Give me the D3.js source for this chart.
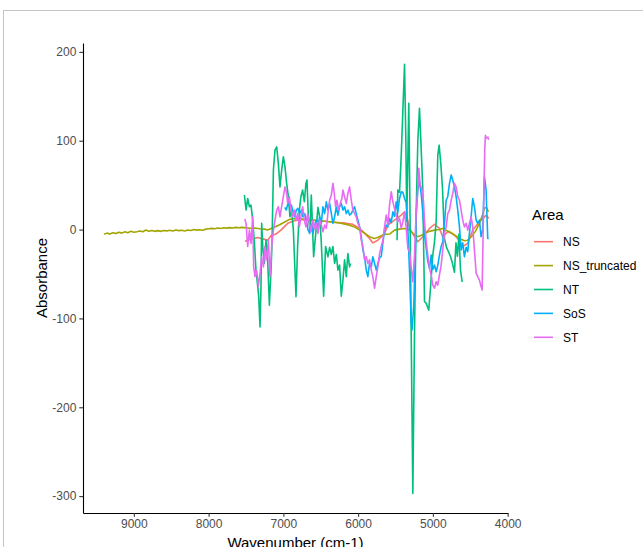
<!DOCTYPE html>
<html>
<head>
<meta charset="utf-8">
<script src="https://cdn.jsdelivr.net/npm/d3@7"></script>
<style>
  body { margin: 0; background: #fff; }
  svg { display: block; font-family: "Liberation Sans", Arial, sans-serif; }
</style>
</head>
<body>
<svg id="chart"></svg>
<script>
// series names (legend order) and ggplot hue colours
const areas = ['NS', 'NS_truncated', 'NT', 'SoS', 'ST'];
const areaColors = ['#F8766D', '#A3A500', '#00BF7D', '#00B0F6', '#E76BF3'];

const xTicks = [9000, 8000, 7000, 6000, 5000, 4000];
const yTicks = [200, 100, 0, -100, -200, -300];

// [wavenumber, absorbance]
const nsTruncated = [
  [9401, -5.4], [9361, -4], [9321, -5], [9281, -3.5], [9240, -4.5], [9200, -3], [9160, -4],
  [9120, -2.5], [9080, -3.5], [9040, -2], [9000, -3], [8960, -2.5], [8920, -1.5], [8880, -2.5],
  [8840, -0.5], [8800, -1.8], [8760, -1], [8719, -2], [8679, -1.2], [8639, -2], [8599, -1],
  [8559, -1.5], [8519, -0.8], [8479, -1.6], [8439, -0.5], [8399, -1.2], [8359, -0.8], [8319, -1.5],
  [8279, -0.5], [8238, -1], [8198, 0], [8158, -0.6], [8118, -0.2], [8078, -0.8], [8038, 0.5],
  [7998, 1], [7958, 1.4], [7918, 1], [7878, 1.8], [7838, 1.2], [7798, 2], [7758, 1.6],
  [7717, 2.2], [7677, 1.8], [7637, 2.5], [7597, 2], [7557, 2.5], [7517, 2.2], [7450, 1.5],
  [7383, 1.8], [7317, 1], [7250, 0.5], [7210, -0.5], [7170, 1], [7116, 3], [7049, 5.5],
  [6983, 8.5], [6916, 11.5], [6849, 12.5], [6782, 12], [6716, 11.5], [6649, 10.7], [6515, 10],
  [6381, 8.8], [6248, 7.5], [6114, 5], [6047, 3], [5981, -0.6], [5914, -4], [5847, -8],
  [5780, -10], [5740, -9], [5687, -7], [5647, -5.4], [5580, -5], [5513, -0.6], [5446, 0.5],
  [5379, 1.3], [5312, -0.5], [5245, -6], [5205, -8], [5152, -6.5], [5112, -4.3], [5045, -2],
  [4978, -0.6], [4912, 0], [4872, 1.3], [4818, -1], [4778, -2.4], [4711, -6], [4644, -10],
  [4578, -12.5], [4538, -12], [4484, -8], [4431, -2], [4377, 7], [4337, 16], [4311, 24],
  [4284, 25], [4257, 20]
];

const ns = [
  [7513, -13], [7450, -11], [7387, -10], [7343, -9], [7299, -10], [7250, -11], [7210, -12],
  [7165, -7], [7099, -5], [7032, -0.6], [6942, 7], [6849, 10], [6782, 11], [6648, 11],
  [6515, 10], [6381, 8.8], [6288, 8], [6181, 7.5], [6074, 6], [5980, 1.3], [5914, -4],
  [5847, -10], [5803, -15], [5736, -12], [5646, -4.3], [5602, 5], [5513, 10.7], [5423, 16.3],
  [5379, 20], [5346, 14], [5312, 1.3], [5246, -8], [5201, -13.7], [5135, -8], [5045, 1.3],
  [4978, 6], [4912, 1.3], [4868, -8], [4801, -2.4], [4751, -4], [4689, -8], [4644, -13],
  [4600, -19], [4534, -15.5], [4467, -0.6], [4377, 8.8], [4288, 16], [4253, 12.6]
];

const nt = [
  [7521, 38.9], [7499, 22], [7477, 35], [7454, 25.7], [7433, 27.6], [7410, 10.7], [7387, -15.5],
  [7366, -45.6], [7343, -64], [7330, -75], [7312, -109.5], [7299, -64], [7290, 7], [7276, -19],
  [7254, -38], [7232, -12], [7210, -34], [7187, -85], [7165, -45.6], [7152, -15.5], [7133, 67],
  [7112, 89.5], [7089, 93], [7067, 74.5], [7045, 48], [7023, 67], [7000, 82], [6978, 70.7],
  [6956, 52], [6933, 37], [6912, 14.4], [6889, 22], [6866, -0.6], [6845, -45.6], [6831, -75.6],
  [6809, -19], [6786, 22], [6765, 37], [6742, 44.5], [6719, 31.3], [6698, 52], [6684, 55.7],
  [6666, 14.4], [6644, -0.6], [6626, 39], [6595, -30.6], [6559, 3], [6537, 25], [6515, 15],
  [6495, -10], [6479, -40], [6461, -75], [6435, -19], [6404, -30.6], [6381, -20], [6358, -28],
  [6337, -19], [6314, -38], [6292, -28], [6270, -45.6], [6248, -40], [6225, -75], [6203, -57],
  [6181, -34], [6158, -53], [6137, -27], [6114, -42], [6101, -38],
  [5800, null],
  [5479, -12], [5469, 44.5], [5446, 42], [5423, 84], [5402, 132], [5379, 186], [5362, 103],
  [5349, 9], [5322, 142], [5306, 20], [5286, -150], [5268, -297], [5246, -120], [5223, 20],
  [5201, 100], [5179, 136.5], [5156, 90], [5135, 46], [5112, -81], [5089, -83], [5068, -88],
  [5055, -90.6], [5032, -66], [5001, -28.7], [4978, -13.7], [4956, 8.8], [4934, 84], [4916, 95],
  [4892, 72], [4871, 46], [4845, -10], [4818, -20], [4791, -25], [4765, -30], [4738, -38],
  [4711, -48], [4691, -15], [4671, -30], [4651, -5], [4631, -45], [4608, -59]
];

const sos = [
  [6982, 25], [6960, 22], [6938, 30], [6916, 26], [6893, 27.6], [6871, 20], [6849, 14.4],
  [6826, 22], [6805, 24], [6782, 18], [6759, 22], [6738, 14.4], [6715, 18], [6692, 10.7],
  [6671, 0], [6648, -4.3], [6626, 6], [6604, -4.3], [6582, 5], [6559, 10.7], [6537, -0.6],
  [6515, 14.4], [6492, 7], [6471, 25.7], [6448, 18], [6425, 31.3], [6404, 22], [6381, 29.5],
  [6358, 18], [6337, 7], [6314, 14.4], [6292, 25.7], [6270, 16.3], [6248, 25.7], [6225, 29.5],
  [6203, 22], [6181, 25.7], [6158, 18], [6137, 22], [6114, 16.3], [6091, 18], [6070, 22],
  [6047, 25.7], [6025, 18], [6003, 10.7], [5980, 3], [5958, -8], [5936, -23], [5914, -30.6],
  [5891, -45.6], [5870, -53], [5847, -38], [5824, -42], [5803, -30.6], [5780, -38], [5757, -45.6],
  [5736, -38], [5713, -32], [5690, -30], [5669, -15], [5646, -0.6], [5624, 5], [5602, 3],
  [5580, 12.6], [5557, 8], [5535, 20], [5513, 15], [5490, 31.3], [5469, 20], [5446, 35],
  [5423, 42.6], [5402, 42], [5379, 35], [5356, 30], [5335, 1.3], [5312, -47.5], [5290, -104],
  [5279, -113], [5255, -85], [5236, -28.7], [5223, 15], [5201, 46], [5179, 54], [5156, 40],
  [5135, 20], [5112, -6], [5089, -21], [5068, -36], [5045, -43.7], [5023, -28.7], [5001, -45],
  [4978, -40], [4956, -47.5], [4934, -40], [4912, -28.7], [4889, -19], [4868, -13.7], [4845, 7],
  [4822, 33], [4801, 37], [4778, 52], [4755, 61.4], [4734, 55.7], [4711, 48], [4689, 37],
  [4667, 22], [4644, 3], [4622, -23], [4600, -15], [4578, -30.6], [4555, -20], [4534, -25],
  [4511, -4.3], [4488, 14.4], [4467, 35], [4444, 25.7], [4421, 10.7], [4400, 7], [4377, 10.7],
  [4355, -8], [4333, 0], [4310, 59.5], [4288, 44.5], [4266, -10], [4253, -10]
];

const st = [
  [7517, 12], [7499, 7], [7477, -19], [7454, -0.6], [7433, -15.5], [7410, 14.4], [7397, -42],
  [7379, -53], [7357, -46], [7334, -64], [7312, -49], [7290, -30.6], [7267, -42], [7246, -19],
  [7223, -34], [7200, -12], [7179, -53], [7156, -19], [7133, -0.6], [7112, 10.7], [7089, 22],
  [7067, 25.7], [7045, 14.4], [7023, 25.7], [7000, 37], [6978, 48], [6956, 40.8], [6942, 29.5],
  [6920, 37], [6898, 22], [6876, 14.4], [6853, 22], [6831, 10.7], [6809, 18], [6786, 3],
  [6765, 14.4], [6742, 25.7], [6719, 10.7], [6698, 3], [6675, 18], [6652, 7], [6631, -2.4],
  [6604, 10.7], [6582, 1.3], [6559, 7], [6537, -4.3], [6515, 10.7], [6492, 5], [6471, -2.4],
  [6448, 5], [6425, 1.3], [6404, 18], [6381, 33], [6358, 39], [6337, 52], [6324, 44.5],
  [6301, 25.7], [6284, 33], [6261, 22], [6238, 29.5], [6217, 35], [6203, 44.5], [6181, 37],
  [6158, 29.5], [6137, 40.8], [6114, 48], [6091, 33], [6070, 22], [6047, 18], [6025, 14.4],
  [6003, 7], [5980, 3], [5958, -12], [5936, -19], [5914, -34], [5891, -30.6], [5870, -38],
  [5847, -34], [5824, -45.6], [5803, -53], [5780, -66], [5757, -53], [5736, -42], [5713, -27],
  [5690, -19], [5669, -12], [5646, 3], [5624, 16.3], [5602, 5], [5580, 27.6], [5557, 42.6],
  [5535, 31.3], [5513, 23.9], [5490, 16.3], [5469, 8.8], [5446, 12.6], [5423, 1.3], [5402, 8.8],
  [5379, 20], [5356, 1.3], [5335, -21], [5312, -25], [5290, -43.7], [5268, -58.8], [5246, -28.7],
  [5223, 20], [5201, 46], [5188, 69], [5170, 50], [5148, 46], [5125, 31.3], [5112, 8.8],
  [5089, -13.7], [5068, -28.7], [5045, -43.7], [5023, -51], [5001, -62.5], [4978, -66],
  [4956, -58.8], [4934, -62.5], [4912, -51], [4889, -40], [4868, -23], [4845, -4.3], [4822, 3],
  [4801, 18], [4778, 22], [4755, 33], [4734, 40.8], [4711, 52], [4689, 48], [4667, 37],
  [4644, 33], [4622, 22], [4600, 10.7], [4578, 3], [4555, 7], [4534, -0.6], [4511, 7],
  [4488, 14.4], [4467, 3], [4444, -23], [4421, -49], [4400, -53], [4377, -57], [4355, -64],
  [4341, -68], [4324, 14.4], [4306, 89.5], [4297, 106], [4284, 103], [4264, 104], [4253, 101]
];

const seriesData = [ns, nsTruncated, nt, sos, st];

const width = 643;
const height = 547;
const margin = { top: 43, right: 135, bottom: 34, left: 83 };

const svg = d3.select('#chart')
  .attr('width', width)
  .attr('height', height);

svg.append('rect')
  .attr('width', width)
  .attr('height', height)
  .attr('fill', '#fff');

// frame of the exported figure
svg.append('rect')
  .attr('x', 3.5)
  .attr('y', 10.5)
  .attr('width', width + 20)
  .attr('height', height + 20)
  .attr('fill', 'none')
  .attr('stroke', '#c4c4c4')
  .attr('stroke-width', 1);

const x = d3.scaleLinear()
  .domain([9680, 3995])
  .range([margin.left, width - margin.right]);

const y = d3.scaleLinear()
  .domain([-319, 210])
  .range([height - margin.bottom, margin.top]);

const color = d3.scaleOrdinal().domain(areas).range(areaColors);

const line = d3.line()
  .defined(d => d[1] !== null)
  .x(d => x(d[0]))
  .y(d => y(d[1]));

svg.append('g')
  .selectAll('path')
  .data(seriesData)
  .join('path')
  .attr('fill', 'none')
  .attr('stroke', (d, i) => color(areas[i]))
  .attr('stroke-width', 1.6)
  .attr('stroke-linejoin', 'round')
  .attr('d', line);

// axes, plain hyphen for negatives like R
const xAxis = svg.append('g')
  .attr('transform', `translate(0,${height - margin.bottom})`)
  .call(d3.axisBottom(x).tickValues(xTicks).tickSize(3.7).tickSizeOuter(0).tickPadding(3).tickFormat(d => String(d)));

const yAxis = svg.append('g')
  .attr('transform', `translate(${margin.left},0)`)
  .call(d3.axisLeft(y).tickValues(yTicks).tickSize(3.7).tickSizeOuter(0).tickPadding(3).tickFormat(d => String(d)));

[xAxis, yAxis].forEach(ax => {
  ax.select('.domain').attr('stroke', '#000').attr('stroke-width', 1.1);
  ax.selectAll('.tick line').attr('stroke', '#333').attr('stroke-width', 1.1);
  ax.selectAll('.tick text')
    .attr('fill', '#4d4d4d')
    .style('font-size', '12px')
    .style('font-family', '"Liberation Sans", Arial, sans-serif');
});

svg.append('text')
  .attr('x', (margin.left + width - margin.right) / 2)
  .attr('y', 548)
  .attr('text-anchor', 'middle')
  .style('font-size', '15px')
  .attr('fill', '#000')
  .text('Wavenumber (cm-1)');

svg.append('text')
  .attr('transform', `translate(47,${(margin.top + height - margin.bottom) / 2}) rotate(-90)`)
  .attr('text-anchor', 'middle')
  .style('font-size', '15px')
  .attr('fill', '#000')
  .text('Absorbance');

// legend
const legend = svg.append('g').attr('transform', 'translate(532,0)');

legend.append('text')
  .attr('x', 0)
  .attr('y', 220)
  .style('font-size', '15px')
  .attr('fill', '#000')
  .text('Area');

const item = legend.selectAll('g.item')
  .data(areas)
  .join('g')
  .attr('class', 'item')
  .attr('transform', (d, i) => `translate(0,${241.7 + i * 23.9})`);

item.append('line')
  .attr('x1', 2)
  .attr('x2', 21)
  .attr('stroke', d => color(d))
  .attr('stroke-width', 1.6);

item.append('text')
  .attr('x', 31)
  .attr('dy', '0.36em')
  .style('font-size', '12px')
  .attr('fill', '#000')
  .text(d => d);
</script>
</body>
</html>
